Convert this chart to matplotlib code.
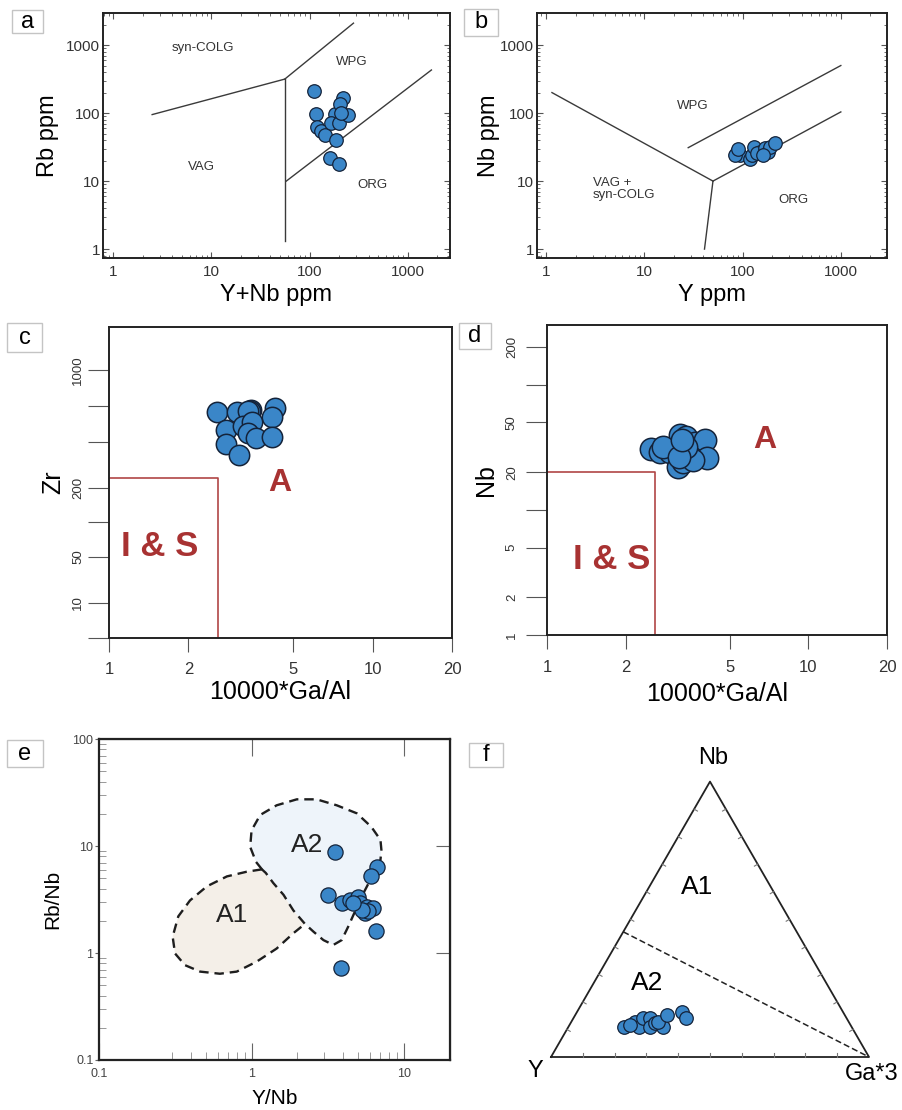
import numpy as np
import matplotlib
matplotlib.use("Agg")
import matplotlib.pyplot as plt
from matplotlib.patches import Rectangle
from matplotlib.ticker import NullLocator, NullFormatter, FixedLocator

plt.rcParams["font.family"] = ["Liberation Sans", "DejaVu Sans"]

# ---------------- data ----------------
# (a) Rb vs Y+Nb
a_ynb = [110, 117, 118, 132, 142, 180, 167, 198, 218, 205, 245, 210, 188, 160, 198]
a_rb = [210, 97, 62, 54, 48, 97, 71, 71, 166, 135, 93, 100, 40, 22, 18]
a_bounds = [([2.5, 56], [95, 316]),
             ([56, 280], [316, 2100]),
             ([56, 56], [1.3, 316]),
             ([58, 1740], [10, 430])]
a_fields = [("syn-COLG", 8.2, 900), ("WPG", 267, 560), ("VAG", 8, 16), ("ORG", 435, 8.7)]

# (b) Nb vs Y
b_y = [88, 94, 83, 120, 124, 131, 151, 141, 170, 182, 190, 214, 162, 90]
b_nb = [27, 24, 24, 21, 24, 32, 27, 26, 31, 27, 32, 36, 24, 30]
b_bounds = [([1.15, 50], [200, 10]),
             ([50, 41], [10, 1]),
             ([50, 1000], [10, 104]),
             ([28, 1000], [31, 500])]

# (c) Zr vs 10000*Ga/Al
c_ga = [2.57, 3.06, 3.47, 3.42, 3.38, 4.25, 4.17, 2.79, 3.23, 3.50, 3.37, 3.60, 4.17, 2.77, 3.10]
c_zr = [560, 560, 575, 570, 565, 585, 530, 458, 478, 503, 441, 417, 422, 388, 329]
c_box = (2.6, 232)
# the Zr axis of the original is not a true log axis: tick value -> height (px above bottom)
zr_tick_vals = [1, 10, 50, 100, 200, 400, 600, 1000, 1840]
zr_tick_pos = [0, 35, 81, 116, 150, 196, 232, 268, 311]

# (d) Nb vs 10000*Ga/Al
d_ga = [2.51, 2.70, 2.95, 3.22, 3.41, 3.67, 4.01, 4.09, 3.17, 3.31, 3.62, 3.41, 2.78, 3.20, 3.28]
d_nb = [30.6, 29, 29, 39.6, 38, 34, 36, 25.8, 22.1, 24.2, 25, 31.9, 32, 26.6, 36]
d_box = (2.6, 20)

# (e) Rb/Nb vs Y/Nb
e_ynb = [3.53, 6.6, 6.1, 3.19, 3.9, 4.43, 5.0, 5.14, 5.69, 6.3, 5.55, 5.8, 5.28, 6.55, 3.85, 4.66]
e_rbnb = [8.7, 6.3, 5.25, 3.5, 2.95, 3.13, 3.36, 2.91, 2.71, 2.62, 2.35, 2.45, 2.52, 1.61, 0.72, 2.95]
a2_x = [1.17, 1.07, 0.98, 1.0, 1.14, 1.46, 1.98, 2.67, 3.62, 4.9, 6.1, 7.0, 7.1, 7.0, 6.0, 5.4,
        4.8, 4.3, 3.9, 3.44, 2.96, 2.55, 2.24, 1.88, 1.62, 1.39, 1.24]
a2_y = [6.05, 7.1, 9.8, 14, 19.5, 24, 27.3, 27.3, 24, 20.2, 15.1, 11.4, 9.2, 7.4, 4.8, 3.6,
        2.5, 1.76, 1.32, 1.19, 1.32, 1.58, 1.87, 2.5, 3.5, 4.5, 5.6]
a1_x = [1.17, 0.93, 0.69, 0.51, 0.395, 0.331, 0.304, 0.315, 0.366, 0.46, 0.62, 0.80, 1.08, 1.46, 1.88, 2.24]
a1_y = [6.05, 5.75, 5.2, 4.2, 3.1, 2.2, 1.42, 0.99, 0.77, 0.67, 0.64, 0.67, 0.83, 1.1, 1.53, 1.87]

# (f) Nb - Y - Ga*3 ternary (fractions)
f_y = [0.715, 0.672, 0.667, 0.640, 0.619, 0.634, 0.612, 0.592, 0.5985, 0.560, 0.506, 0.504, 0.694]
f_nb = [0.110, 0.128, 0.110, 0.1405, 0.1405, 0.110, 0.1224, 0.110, 0.128, 0.1524, 0.1646, 0.1428, 0.116]
f_ga = [0.1746, 0.200, 0.223, 0.220, 0.241, 0.256, 0.266, 0.298, 0.2735, 0.288, 0.329, 0.353, 0.190]
f_split = 0.4545  # Nb fraction where the A1/A2 line meets the Y-Nb side

# ---------------- figure ----------------
W, H = 903, 1110
fig = plt.figure(figsize=(W / 100, H / 100), dpi=100)

BLUE = "#3a86c8"
EDGE = "#14233a"
RED = "#a83232"
LINE = "#3a3a3a"
TXT = "#333333"


def place(l, t, r, b):
    return [l / W, 1 - b / H, (r - l) / W, (b - t) / H]


def tag(letter, l, t, r, b):
    fig.add_artist(Rectangle((l / W, 1 - b / H), (r - l) / W, (b - t) / H,
                             transform=fig.transFigure, fc="white", ec="#c4c4c4", lw=1))
    fig.text((l + r) / 2 / W, 1 - (t + b) / 2 / H, letter, ha="center", va="center", fontsize=17)


def frame(ax, lw=1.4):
    for s in ax.spines.values():
        s.set_linewidth(lw)
        s.set_color("#222222")


# ---- a ----
ax = fig.add_axes(place(103, 13, 450, 258))
ax.set_xscale("log")
ax.set_yscale("log")
ax.set_xlim(0.79, 2690)
ax.set_ylim(0.74, 2960)
for xs, ys in a_bounds:
    ax.plot(xs, ys, color=LINE, lw=1)
ax.scatter(a_ynb, a_rb, s=95, c=BLUE, edgecolors=EDGE, linewidths=0.9, zorder=3)
for t, x, y in a_fields:
    ax.text(x, y, t, fontsize=9.5, ha="center", va="center", color=TXT)
ax.set_xticks([1, 10, 100, 1000])
ax.set_xticklabels(["1", "10", "100", "1000"])
ax.set_yticks([1, 10, 100, 1000])
ax.set_yticklabels(["1", "10", "100", "1000"])
ax.tick_params(which="both", direction="in", top=True, right=True, labelsize=11, labelcolor=TXT, color="#555")
ax.tick_params(which="major", length=4)
ax.tick_params(which="minor", length=2)
ax.tick_params(axis="y", pad=2)
ax.tick_params(axis="x", pad=5)
ax.set_xlabel("Y+Nb ppm", fontsize=17)
ax.xaxis.set_label_coords(0.5, -0.106)
ax.set_ylabel("Rb ppm", fontsize=17)
ax.yaxis.set_label_coords(-0.127, 0.5)
frame(ax)
tag("a", 12, 10, 43, 33)

# ---- b ----
ax = fig.add_axes(place(537, 13, 887, 258))
ax.set_xscale("log")
ax.set_yscale("log")
ax.set_xlim(0.81, 2950)
ax.set_ylim(0.74, 2960)
for xs, ys in b_bounds:
    ax.plot(xs, ys, color=LINE, lw=1)
ax.scatter(b_y, b_nb, s=95, c=BLUE, edgecolors=EDGE, linewidths=0.9, zorder=3)
ax.text(31, 126, "WPG", fontsize=9.5, ha="center", va="center", color=TXT)
ax.text(3.0, 7.6, "VAG +\nsyn-COLG", fontsize=9.5, ha="left", va="center", color=TXT, linespacing=1.0)
ax.text(333, 5.2, "ORG", fontsize=9.5, ha="center", va="center", color=TXT)
ax.set_xticks([1, 10, 100, 1000])
ax.set_xticklabels(["1", "10", "100", "1000"])
ax.set_yticks([1, 10, 100, 1000])
ax.set_yticklabels(["1", "10", "100", "1000"])
ax.tick_params(which="both", direction="in", top=True, right=True, labelsize=11, labelcolor=TXT, color="#555")
ax.tick_params(which="major", length=4)
ax.tick_params(which="minor", length=2)
ax.tick_params(axis="y", pad=2)
ax.tick_params(axis="x", pad=5)
ax.set_xlabel("Y ppm", fontsize=17)
ax.xaxis.set_label_coords(0.5, -0.106)
ax.set_ylabel("Nb ppm", fontsize=17)
ax.yaxis.set_label_coords(-0.106, 0.5)
frame(ax)
tag("b", 464, 9, 498, 36)

# ---- c ----
lv = np.log10(zr_tick_vals)


def zr_fwd(v):
    return np.interp(np.log10(np.clip(v, 1e-3, None)), lv, zr_tick_pos)


def zr_inv(p):
    return 10 ** np.interp(p, zr_tick_pos, lv)


ax = fig.add_axes(place(109, 327, 452, 638))
ax.set_xscale("log")
ax.set_yscale("function", functions=(zr_fwd, zr_inv))
ax.set_xlim(1, 20)
ax.set_ylim(1, 1840)
ax.plot([1, c_box[0], c_box[0]], [c_box[1], c_box[1], 1], color="#b04545", lw=1.2)
ax.scatter(c_ga, c_zr, s=215, c=BLUE, edgecolors=EDGE, linewidths=1.1, zorder=3)
ax.text(4.45, 216, "A", fontsize=23, fontweight="bold", color=RED, ha="center", va="center")
ax.text(1.56, 61, "I & S", fontsize=25, fontweight="bold", color=RED, ha="center", va="center")
ax.set_xticks([1, 2, 5, 10, 20])
ax.set_xticklabels(["1", "2", "5", "10", "20"])
ax.xaxis.set_minor_locator(NullLocator())
ax.set_yticks(zr_tick_vals[:-1])
ax.set_yticklabels(["", "10", "50", "", "200", "", "", "1000"], rotation=90, va="center")
ax.yaxis.set_minor_locator(NullLocator())
ax.tick_params(axis="x", direction="out", length=10, labelsize=12, pad=7, color="#555", labelcolor=TXT)
ax.tick_params(axis="y", direction="out", length=15, labelsize=9.5, pad=3, color="#555", labelcolor=TXT)
ax.set_xlabel("10000*Ga/Al", fontsize=18)
ax.xaxis.set_label_coords(0.5, -0.135)
ax.set_ylabel("Zr", fontsize=18)
ax.yaxis.set_label_coords(-0.128, 0.5)
frame(ax)
tag("c", 7, 323, 42, 352)

# ---- d ----
ax = fig.add_axes(place(547, 325, 887, 635))
ax.set_xscale("log")
ax.set_yscale("log")
ax.set_xlim(1, 20)
ax.set_ylim(1, 300)
ax.plot([1, d_box[0], d_box[0]], [d_box[1], d_box[1], 1], color="#b04545", lw=1.2)
ax.scatter(d_ga, d_nb, s=260, c=BLUE, edgecolors=EDGE, linewidths=1.1, zorder=3)
ax.text(6.8, 36, "A", fontsize=23, fontweight="bold", color=RED, ha="center", va="center")
ax.text(1.77, 4.0, "I & S", fontsize=25, fontweight="bold", color=RED, ha="center", va="center")
ax.set_xticks([1, 2, 5, 10, 20])
ax.set_xticklabels(["1", "2", "5", "10", "20"])
ax.xaxis.set_minor_locator(NullLocator())
ax.set_yticks([1, 2, 5, 10, 20, 50, 100, 200])
ax.set_yticklabels(["1", "2", "5", "", "20", "50", "", "200"], rotation=90, va="center")
ax.yaxis.set_minor_locator(NullLocator())
ax.tick_params(axis="x", direction="out", length=10, labelsize=12, pad=8, color="#555", labelcolor=TXT)
ax.tick_params(axis="y", direction="out", length=15, labelsize=9.5, pad=6, color="#555", labelcolor=TXT)
ax.set_xlabel("10000*Ga/Al", fontsize=18)
ax.xaxis.set_label_coords(0.5, -0.152)
ax.set_ylabel("Nb", fontsize=18)
ax.yaxis.set_label_coords(-0.144, 0.5)
frame(ax)
tag("d", 459, 323, 491, 349)

# ---- e ----
ax = fig.add_axes(place(99, 739, 450, 1060))
ax.set_xscale("log")
ax.set_yscale("log")
ax.set_xlim(0.1, 20)
ax.set_ylim(0.1, 100)
a1_fill_x = a1_x + a2_x[23:]
a1_fill_y = a1_y + a2_y[23:]
ax.fill(a1_fill_x, a1_fill_y, color="#f4efe8", lw=0, zorder=1)
ax.fill(a2_x, a2_y, color="#eef4fa", lw=0, zorder=1)
ax.plot(a2_x + a2_x[:1], a2_y + a2_y[:1], color="#1e1e1e", lw=1.7, ls=(0, (4, 2.5)), zorder=2)
ax.plot(a1_x, a1_y, color="#1e1e1e", lw=1.7, ls=(0, (4, 2.5)), zorder=2)
ax.scatter(e_ynb, e_rbnb, s=120, c=BLUE, edgecolors=EDGE, linewidths=0.9, zorder=3)
ax.text(2.3, 10.2, "A2", fontsize=19, ha="center", va="center", color="#222")
ax.text(0.74, 2.27, "A1", fontsize=19, ha="center", va="center", color="#222")
ax.set_xticks([0.1, 1, 10])
ax.set_xticklabels(["0.1", "1", "10"])
ax.xaxis.set_minor_locator(FixedLocator([0.3, 0.4, 0.5, 0.6, 0.7, 0.8, 0.9, 2, 3, 4, 5, 6, 7, 8, 9]))
ax.xaxis.set_minor_formatter(NullFormatter())
ax.set_yticks([0.1, 1, 10, 100])
ax.set_yticklabels(["0.1", "1", "10", "100"])
ax.yaxis.set_minor_formatter(NullFormatter())
ax.tick_params(axis="x", which="major", direction="in", length=12, labelsize=9, pad=6, color="#666", labelcolor="#444")
ax.tick_params(axis="x", which="minor", direction="in", length=6, color="#888")
ax.tick_params(axis="y", which="major", direction="out", length=3, labelsize=9, pad=1, color="#666", labelcolor="#444")
ax.tick_params(axis="y", which="minor", direction="in", length=5, color="#888")
top = ax.secondary_xaxis("top")
top.set_xticks([1, 10])
top.xaxis.set_minor_locator(NullLocator())
top.tick_params(direction="in", length=12, labeltop=False, color="#666")
right = ax.secondary_yaxis("right")
right.set_yticks([1, 10])
right.yaxis.set_minor_locator(NullLocator())
right.tick_params(direction="in", length=10, labelright=False, color="#666")
ax.set_xlabel("Y/Nb", fontsize=15)
ax.xaxis.set_label_coords(0.5, -0.09)
ax.set_ylabel("Rb/Nb", fontsize=15)
ax.yaxis.set_label_coords(-0.105, 0.5)
frame(ax, 1.6)
tag("e", 7, 740, 43, 767)

# ---- f (ternary) ----
s3 = np.sqrt(3) / 2


def tern(y, nb, ga):
    y, nb, ga = np.asarray(y, float), np.asarray(nb, float), np.asarray(ga, float)
    tot = y + nb + ga
    nb, ga = nb / tot, ga / tot
    return ga + nb / 2, nb * s3


ax = fig.add_axes(place(500, 745, 900, 1100))
ax.set_xlim(-0.1604, 1.0975)
ax.set_ylim(-0.1352, 0.9811)
ax.axis("off")
vx, vy = tern([1, 0, 0, 1], [0, 1, 0, 0], [0, 0, 1, 0])
ax.plot(vx, vy, color="#222", lw=1.3, zorder=2)
# small ticks every 10 % on each side
fr = np.arange(1, 10) / 10
for (p, q) in [((1, 0, 0), (0, 0, 1)), ((0, 0, 1), (0, 1, 0)), ((0, 1, 0), (1, 0, 0))]:
    px0, py0 = tern(*p)
    qx0, qy0 = tern(*q)
    dx, dy = qx0 - px0, qy0 - py0
    nx, ny = -dy * 0.012, dx * 0.012
    for f in fr:
        tx, ty = px0 + f * dx, py0 + f * dy
        ax.plot([tx, tx + nx], [ty, ty + ny], color="#777", lw=0.8)
sx, sy = tern([[1 - f_split, 0]], [[f_split, 0]], [[0, 1]])
ax.plot(sx[0], sy[0], color="#222", lw=1.1, ls=(0, (4, 2)), zorder=2)
fx, fy = tern(f_y, f_nb, f_ga)
ax.scatter(fx, fy, s=95, c=BLUE, edgecolors=EDGE, linewidths=0.9, zorder=3)
ax.text(0.509, 0.94, "Nb", fontsize=17, ha="center", va="center", clip_on=False)
ax.text(-0.05, -0.044, "Y", fontsize=17, ha="center", va="center", clip_on=False)
ax.text(1.009, -0.053, "Ga*3", fontsize=17, ha="center", va="center", clip_on=False)
ax.text(0.459, 0.535, "A1", fontsize=19, ha="center", va="center")
ax.text(0.302, 0.233, "A2", fontsize=19, ha="center", va="center")
tag("f", 469, 743, 503, 767)

fig.savefig("out.png", dpi=100, facecolor="white")
